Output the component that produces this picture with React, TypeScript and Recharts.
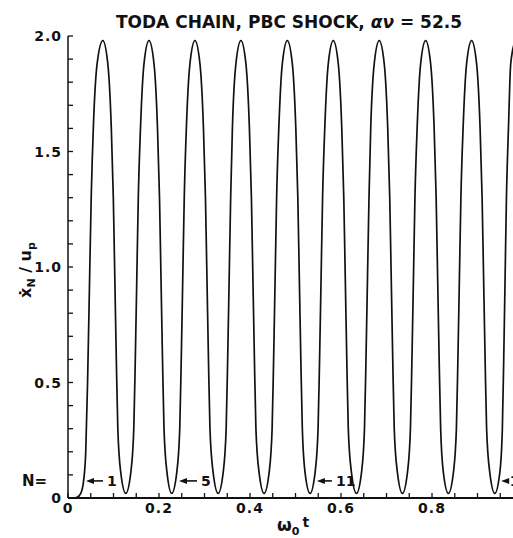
import { LineChart, Line, XAxis, YAxis, ReferenceLine } from 'recharts'

// omega_0 t  vs  xdot_N / u_p
const omegaT = [
  0, 0.01, 0.02, 0.028, 0.034, 0.039, 0.043, 0.047, 0.051, 0.056, 0.064, 0.0765,
  0.0875, 0.0952, 0.0996, 0.1029, 0.1062, 0.1095, 0.116, 0.127,
  0.138, 0.1446, 0.1479, 0.1512, 0.1545, 0.1593, 0.167, 0.178,
  0.189, 0.1967, 0.2011, 0.2044, 0.2077, 0.211, 0.2176, 0.228,
  0.239, 0.2456, 0.2489, 0.2522, 0.2555, 0.2601, 0.268, 0.279,
  0.29, 0.2977, 0.3021, 0.3054, 0.3087, 0.312, 0.319, 0.33,
  0.341, 0.3476, 0.3509, 0.3542, 0.3575, 0.3613, 0.369, 0.38,
  0.391, 0.3987, 0.4031, 0.4064, 0.4097, 0.413, 0.42, 0.431,
  0.442, 0.4486, 0.4519, 0.4552, 0.4585, 0.4633, 0.471, 0.482,
  0.493, 0.5007, 0.5051, 0.5084, 0.5117, 0.515, 0.521, 0.532,
  0.543, 0.5496, 0.5529, 0.5562, 0.5595, 0.5643, 0.572, 0.583,
  0.594, 0.6017, 0.6061, 0.6094, 0.6127, 0.616, 0.623, 0.634,
  0.645, 0.6516, 0.6549, 0.6582, 0.6615, 0.6653, 0.673, 0.684,
  0.695, 0.7027, 0.7071, 0.7104, 0.7137, 0.717, 0.724, 0.735,
  0.746, 0.7526, 0.7559, 0.7592, 0.7625, 0.7673, 0.775, 0.786,
  0.797, 0.8047, 0.8091, 0.8124, 0.8157, 0.819, 0.825, 0.836,
  0.847, 0.8536, 0.8569, 0.8602, 0.8635, 0.8683, 0.876, 0.887,
  0.898, 0.9057, 0.9101, 0.9134, 0.9167, 0.92, 0.927, 0.938,
  0.949, 0.9546, 0.9576, 0.9606, 0.9636, 0.968, 0.973, 0.983,
]
const xDot = [
  0, 0, 0.003, 0.02, 0.07, 0.2, 0.5, 0.9, 1.3, 1.62, 1.88, 1.98,
  1.88, 1.6, 1.3, 0.95, 0.6, 0.3, 0.11, 0.02,
  0.11, 0.3, 0.6, 0.95, 1.3, 1.6, 1.88, 1.98,
  1.88, 1.6, 1.3, 0.95, 0.6, 0.3, 0.11, 0.02,
  0.11, 0.3, 0.6, 0.95, 1.3, 1.6, 1.88, 1.98,
  1.88, 1.6, 1.3, 0.95, 0.6, 0.3, 0.11, 0.02,
  0.11, 0.3, 0.6, 0.95, 1.3, 1.6, 1.88, 1.98,
  1.88, 1.6, 1.3, 0.95, 0.6, 0.3, 0.11, 0.02,
  0.11, 0.3, 0.6, 0.95, 1.3, 1.6, 1.88, 1.98,
  1.88, 1.6, 1.3, 0.95, 0.6, 0.3, 0.11, 0.02,
  0.11, 0.3, 0.6, 0.95, 1.3, 1.6, 1.88, 1.98,
  1.88, 1.6, 1.3, 0.95, 0.6, 0.3, 0.11, 0.02,
  0.11, 0.3, 0.6, 0.95, 1.3, 1.6, 1.88, 1.98,
  1.88, 1.6, 1.3, 0.95, 0.6, 0.3, 0.11, 0.02,
  0.11, 0.3, 0.6, 0.95, 1.3, 1.6, 1.88, 1.98,
  1.88, 1.6, 1.3, 0.95, 0.6, 0.3, 0.11, 0.02,
  0.11, 0.3, 0.6, 0.95, 1.3, 1.6, 1.88, 1.98,
  1.88, 1.6, 1.3, 0.95, 0.6, 0.3, 0.11, 0.02,
  0.11, 0.3, 0.6, 0.95, 1.3, 1.6, 1.88, 1.98,
]

const xTicks = [0, 0.05, 0.1, 0.15, 0.2, 0.25, 0.3, 0.35, 0.4, 0.45, 0.5, 0.55, 0.6, 0.65, 0.7, 0.75, 0.8, 0.85, 0.9, 0.95]
const xLabelAt = [0, 0.2, 0.4, 0.6, 0.8]
const xLabelText = ['0', '0.2', '0.4', '0.6', '0.8']
const yTicks = [0, 0.1, 0.2, 0.3, 0.4, 0.5, 0.6, 0.7, 0.8, 0.9, 1, 1.1, 1.2, 1.3, 1.4, 1.5, 1.6, 1.7, 1.8, 1.9, 2]
const yLabelAt = [0, 0.5, 1, 1.5, 2]
const yLabelText = ['0', '0.5', '1.0', '1.5', '2.0']

// particle-number arrows near the bottom
const arrowNames = ['1', '5', '11', '15']
const arrowHead = [0.0396, 0.244, 0.547, 0.952]
const arrowTail = [0.077, 0.2835, 0.58, 0.962]
const arrowLevel = 0.074

const data = omegaT.map((t, i) => ({ t, v: xDot[i] }))

const INK = '#111'
const FONT = '"DejaVu Sans", sans-serif'
const TICK = 5

const findLabel = (at: number[], text: string[], value: number) => {
  const i = at.findIndex((a) => Math.abs(a - value) < 1e-6)
  return i >= 0 ? text[i] : null
}

function BottomTick(props: any) {
  const { x, y, payload } = props
  const lab = findLabel(xLabelAt, xLabelText, payload.value)
  return (
    <g>
      <line x1={x} x2={x} y1={y} y2={y - TICK} stroke={INK} strokeWidth={1.3} />
      {lab && (
        <text x={x} y={y + 15} textAnchor='middle' fill={INK} fontSize={14} fontWeight='bold' fontFamily={FONT} letterSpacing={1}>
          {lab}
        </text>
      )}
    </g>
  )
}

function TopTick(props: any) {
  const { x, y } = props
  return <line x1={x} x2={x} y1={y} y2={y + TICK} stroke={INK} strokeWidth={1.3} />
}

function LeftTick(props: any) {
  const { x, y, payload } = props
  const lab = findLabel(yLabelAt, yLabelText, payload.value)
  return (
    <g>
      <line x1={x} x2={x + TICK} y1={y} y2={y} stroke={INK} strokeWidth={1.3} />
      {lab && (
        <text x={x - 6} y={y + 5} textAnchor='end' fill={INK} fontSize={14} fontWeight='bold' fontFamily={FONT} letterSpacing={1}>
          {lab}
        </text>
      )}
    </g>
  )
}

const arrowShape = (name: string) => (p: any) => {
  const { x1, y1, x2 } = p
  return (
    <g>
      <line x1={x1 + 5} x2={x2} y1={y1} y2={y1} stroke={INK} strokeWidth={1.6} />
      <polygon points={`${x1},${y1} ${x1 + 8},${y1 - 3} ${x1 + 8},${y1 + 3}`} fill={INK} />
      <text x={x2 + 4} y={y1 + 5} fill={INK} fontSize={14} fontWeight='bold' fontFamily={FONT}>
        {name}
      </text>
    </g>
  )
}

export default function App() {
  return (
    <div style={{ position: 'absolute', left: 0, top: 0, width: 513, height: 538, background: '#fff' }}>
      <LineChart width={513} height={538} data={data} margin={{ top: 36, right: 0, bottom: 0, left: 0 }}>
        <XAxis
          xAxisId='top' orientation='top' type='number' dataKey='t' domain={[0, 0.978]} allowDataOverflow
          ticks={xTicks} interval={0} height={0} tickSize={0} tickMargin={0} tickLine={false}
          tick={(p: any) => <TopTick {...p} />} axisLine={{ stroke: INK, strokeWidth: 1.5 }}
        />
        <XAxis
          type='number' dataKey='t' domain={[0, 0.978]} allowDataOverflow
          ticks={xTicks} interval={0} height={40} tickSize={0} tickMargin={0} tickLine={false}
          tick={(p: any) => <BottomTick {...p} />} axisLine={{ stroke: INK, strokeWidth: 2 }}
        />
        <YAxis
          type='number' domain={[0, 2]} allowDataOverflow
          ticks={yTicks} interval={0} width={68} tickSize={0} tickMargin={0} tickLine={false}
          tick={(p: any) => <LeftTick {...p} />} axisLine={{ stroke: INK, strokeWidth: 1.5 }}
        />
        {arrowNames.map((name, i) => (
          <ReferenceLine
            key={name}
            segment={[{ x: arrowHead[i], y: arrowLevel }, { x: arrowTail[i], y: arrowLevel }]}
            shape={arrowShape(name)}
          />
        ))}
        <Line
          type='monotone' dataKey='v' stroke={INK} strokeWidth={1.7} dot={false} activeDot={false}
          isAnimationActive={false}
        />
      </LineChart>
      <svg width={513} height={538} style={{ position: 'absolute', left: 0, top: 0, pointerEvents: 'none' }}>
        <text x={289} y={28} textAnchor='middle' fill={INK} fontSize={17} fontWeight='bold' fontFamily={FONT}>
          TODA CHAIN, PBC SHOCK, <tspan fontStyle='italic'>αν</tspan> = 52.5
        </text>
        <text x={22} y={486} fill={INK} fontSize={15} fontWeight='bold' fontFamily={FONT}>N=</text>
        <text x={31} y={270} transform='rotate(-90 31 270)' textAnchor='middle' fill={INK} fontSize={16} fontWeight='bold' fontFamily={FONT}>
          ẋ<tspan dy={4} fontSize={11}>N</tspan><tspan dy={-4}> / u</tspan><tspan dy={4} fontSize={11}>p</tspan>
        </text>
        <text x={277} y={531} fill={INK} fontSize={17} fontWeight='bold' fontFamily={FONT}>
          ω<tspan dy={4} fontSize={11}>0</tspan><tspan dy={-8} dx={3} fontSize={14}>t</tspan>
        </text>
      </svg>
    </div>
  )
}
